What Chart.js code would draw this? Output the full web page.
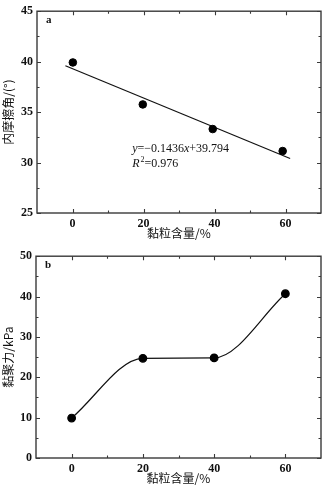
<!DOCTYPE html>
<html>
<head>
<meta charset="utf-8">
<script src="https://cdn.jsdelivr.net/npm/chart.js@4/dist/chart.umd.min.js"></script>
<style>
html,body{margin:0;padding:0;background:#fff;}
canvas{display:block;}
</style>
</head>
<body>
<canvas id="ca" width="329" height="245"></canvas>
<canvas id="cb" width="329" height="245"></canvas>
<script>
// ---- data ----
const clayContent = [0.1, 19.8, 39.5, 59.2];
const frictionAngle = [39.92, 35.76, 33.32, 31.14];
const fitX = [-2, 61.3];
const fitY = [39.6, 30.4];
const clayContentB = [0, 20, 40, 60];
const cohesion = [9.9, 24.7, 24.8, 40.7];
const xTicks = [0, 20, 40, 60];
const xMinorTicks = [10, 30, 50];
const yTicksA = [25, 30, 35, 40, 45];
const yMinorA = [27.5, 32.5, 37.5, 42.5];
const yTicksB = [0, 10, 20, 30, 40, 50];
const yMinorB = [5, 15, 25, 35, 45];
const xTitle = '黏粒含量/%';
const yTitleA = '内摩擦角/(°)';
const yTitleB = '黏聚力/kPa';
const eqText = ['y', '=−0.1436', 'x', '+39.794'];
const r2Text = ['R', '2', '=0.976'];

const serif = '"Liberation Serif", "DejaVu Serif", serif';
const cjk = '"Noto Sans CJK SC", sans-serif';
const tickFont = {family: serif, size: 12, weight: 'bold'};
const titleFont = {family: cjk, size: 12};
const axisColor = '#3a3a3a';

function framePlugin(majorX, minorX, majorY, minorY, letter) {
  return {
    id: 'frame',
    afterDatasetsDraw(chart) {
      const {ctx, chartArea: a, scales: {x, y}} = chart;
      ctx.save();
      ctx.strokeStyle = axisColor;
      ctx.lineWidth = 1.4;
      ctx.strokeRect(a.left, a.top, a.right - a.left, a.bottom - a.top);
      ctx.lineWidth = 1.1;
      ctx.beginPath();
      const tx = (vals, len) => vals.forEach(v => {
        const p = Math.round(x.getPixelForValue(v)) + 0.5;
        ctx.moveTo(p, a.bottom); ctx.lineTo(p, a.bottom - len);
        ctx.moveTo(p, a.top); ctx.lineTo(p, a.top + len);
      });
      const ty = (vals, len) => vals.forEach(v => {
        const p = Math.round(y.getPixelForValue(v)) + 0.5;
        ctx.moveTo(a.left, p); ctx.lineTo(a.left + len, p);
        ctx.moveTo(a.right, p); ctx.lineTo(a.right - len, p);
      });
      tx(majorX, 4); tx(minorX, 2.5); ty(majorY, 4); ty(minorY, 2.5);
      ctx.stroke();
      ctx.fillStyle = '#111';
      ctx.font = 'bold 11px ' + serif;
      ctx.textBaseline = 'alphabetic';
      ctx.fillText(letter, a.left + 9, a.top + 12);
      ctx.restore();
    }
  };
}

const eqPlugin = {
  id: 'eq',
  afterDatasetsDraw(chart) {
    const {ctx, scales: {x, y}} = chart;
    ctx.save();
    ctx.fillStyle = '#111';
    ctx.textBaseline = 'alphabetic';
    let px = x.getPixelForValue(16.8);
    let py = y.getPixelForValue(31.0);
    const it = 'italic 12px ' + serif, rg = '12px ' + serif;
    eqText.forEach((s, i) => {
      ctx.font = (i % 2 === 0) ? it : rg;
      ctx.fillText(s, px, py);
      px += ctx.measureText(s).width;
    });
    px = x.getPixelForValue(16.8);
    py += 15;
    ctx.font = it; ctx.fillText(r2Text[0], px, py); px += ctx.measureText(r2Text[0]).width + 1;
    ctx.font = '8px ' + serif; ctx.fillText(r2Text[1], px, py - 5); px += ctx.measureText(r2Text[1]).width;
    ctx.font = rg; ctx.fillText(r2Text[2], px, py);
    ctx.restore();
  }
};

function makeScales(yMin, yMax, yTicks, yTitle, yW) {
  return {
    x: {
      type: 'linear', min: -10, max: 70,
      afterBuildTicks: s => { s.ticks = xTicks.map(v => ({value: v})); },
      afterFit: s => { s.height = 32; },
      grid: {display: false, drawTicks: false, tickLength: 0}, border: {display: false},
      ticks: {font: tickFont, color: '#111', padding: 4, maxRotation: 0},
      title: {display: true, text: xTitle, font: titleFont, color: '#111', padding: {top: 0, bottom: 4}}
    },
    y: {
      type: 'linear', min: yMin, max: yMax,
      afterBuildTicks: s => { s.ticks = yTicks.map(v => ({value: v})); },
      afterFit: s => { s.width = yW; },
      grid: {display: false, drawTicks: false, tickLength: 0}, border: {display: false},
      ticks: {font: tickFont, color: '#111', padding: 4},
      title: {display: true, text: yTitle, font: titleFont, color: '#111', padding: {top: 1, bottom: 0}}
    }
  };
}

const common = {
  responsive: false, animation: false, devicePixelRatio: 1,
  plugins: {legend: {display: false}, tooltip: {enabled: false}}
};

new Chart(document.getElementById('ca'), {
  type: 'scatter',
  data: {
    datasets: [
      {data: clayContent.map((v, i) => ({x: v, y: frictionAngle[i]})),
       pointRadius: 3.8, pointBackgroundColor: '#000', pointBorderColor: '#000', showLine: false},
      {data: fitX.map((v, i) => ({x: v, y: fitY[i]})),
       pointRadius: 0, showLine: true, borderColor: '#111', borderWidth: 1.2}
    ]
  },
  options: Object.assign({}, common, {
    layout: {padding: {left: 0, right: 8, top: 11, bottom: 0}},
    scales: makeScales(25, 45, yTicksA, yTitleA, 37)
  }),
  plugins: [framePlugin(xTicks, xMinorTicks, yTicksA, yMinorA, 'a'), eqPlugin]
});

new Chart(document.getElementById('cb'), {
  type: 'scatter',
  data: {
    datasets: [
      {data: clayContentB.map((v, i) => ({x: v, y: cohesion[i]})),
       pointRadius: 3.8, pointBackgroundColor: '#000', pointBorderColor: '#000',
       showLine: true, cubicInterpolationMode: 'monotone', borderColor: '#111', borderWidth: 1.2}
    ]
  },
  options: Object.assign({}, common, {
    layout: {padding: {left: 0, right: 8, top: 10, bottom: 0}},
    scales: makeScales(0, 50, yTicksB, yTitleB, 36)
  }),
  plugins: [framePlugin(xTicks, xMinorTicks, yTicksB, yMinorB, 'b')]
});
</script>
</body>
</html>
